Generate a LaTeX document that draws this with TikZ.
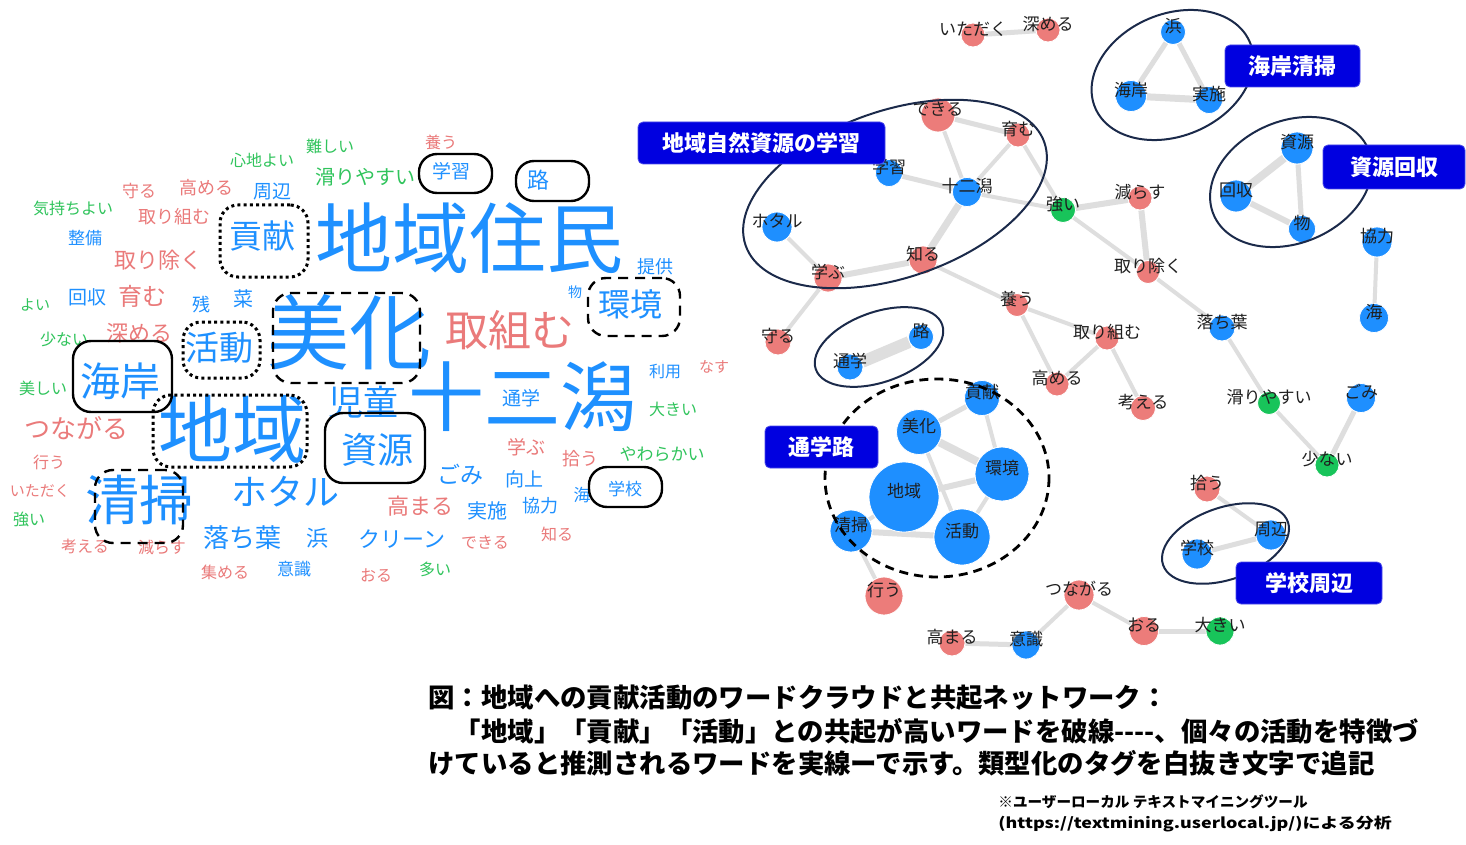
\documentclass[tikz,border=0pt]{standalone}
\usepackage{fontspec}
\setmainfont{Noto Sans CJK JP}
\usetikzlibrary{backgrounds}
\pgfdeclarelayer{foreground}
\pgfsetlayers{background,main,foreground}
\definecolor{wblue}{HTML}{1E90FF}
\definecolor{wred}{HTML}{EA7A7A}
\definecolor{wgreen}{HTML}{30C45C}
\definecolor{nblue}{HTML}{1E8FFF}
\definecolor{nred}{HTML}{EC7C7A}
\definecolor{ngreen}{HTML}{18C45A}
\definecolor{edgec}{HTML}{DEDEDE}
\definecolor{navy}{HTML}{1B2A4A}
\definecolor{tagblue}{HTML}{0000E0}
\newcommand\wcw[6]{\node[wc, text=#4, font=\fontsize{#5pt}{#5pt}\selectfont] (#1) at (#2,#3) {#6};}
\newcommand\nnode[6]{\node[nd, fill=#5, minimum size=#4pt] (#1) at (#2,#3) {};
  \begin{pgfonlayer}{foreground}\node[lbl] (#1t) at ([yshift=3pt]#1.center) {#6};\end{pgfonlayer}}
\begin{document}
\begin{tikzpicture}[x=0.5pt,y=-0.5pt,
  wc/.style={inner sep=0pt},
  rbox/.style={draw=black, rounded corners=9pt, line width=1.2pt, inner sep=0pt},
  dotbox/.style={rbox, line width=1.5pt, dash pattern=on 1.5pt off 1.6pt},
  dashbox/.style={rbox, dash pattern=on 5pt off 3.5pt},
  nd/.style={circle, draw=white, line width=0.4pt, inner sep=0pt},
  lbl/.style={inner sep=0pt, text=black!88, font=\fontsize{8.5pt}{8.5pt}\selectfont},
  lnk/.style={draw=edgec, line width=#1},
  ell/.style={draw=navy, line width=1pt},
  tag/.style={fill=tagblue, draw=tagblue!70!white, line width=0.4pt, rounded corners=2.5pt, text=white, inner sep=0pt, font=\fontsize{11pt}{11pt}\selectfont\bfseries},
  captxt/.style={inner sep=0pt, anchor=west, font=\fontsize{13.2pt}{14pt}\selectfont\bfseries},
  foottxt/.style={inner sep=0pt, anchor=west, font=\fontsize{7.3pt}{8pt}\selectfont\bfseries}]
\begin{pgfonlayer}{background}
\fill[white] (0,0) rectangle (1466,845);
\end{pgfonlayer}
\useasboundingbox (0,0) rectangle (1466,845);
% ---------------- word cloud ----------------
\wcw{w1}{469}{238}{wblue}{38.5}{地域住民}
\wcw{w2}{349}{332}{wblue}{41}{美化}
\wcw{w3}{522}{397}{wblue}{38}{十二潟}
\wcw{w4}{232}{429}{wblue}{37}{地域}
\wcw{w5}{510}{330}{wred}{21.5}{取組む}
\wcw{w6}{139}{500}{wblue}{27}{清掃}
\wcw{w7}{285}{492}{wblue}{18}{ホタル}
\wcw{w8}{120}{381}{wblue}{20}{海岸}
\wcw{w9}{363}{402}{wblue}{17.5}{児童}
\wcw{w10}{377}{450}{wblue}{18}{資源}
\wcw{w11}{262}{236}{wblue}{16.5}{貢献}
\wcw{w12}{219}{348}{wblue}{17}{活動}
\wcw{w13}{630}{304}{wblue}{16}{環境}
\wcw{w14}{77}{428}{wred}{13}{つながる}
\wcw{w15}{242}{538}{wblue}{13}{落ち葉}
\wcw{w16}{402}{539}{wblue}{11}{クリーン}
\wcw{w17}{460}{474}{wblue}{11.5}{ごみ}
\wcw{w18}{420}{506}{wred}{11}{高まる}
\wcw{w19}{158}{260}{wred}{11}{取り除く}
\wcw{w20}{142}{296}{wred}{12}{育む}
\wcw{w21}{139}{333}{wred}{11}{深める}
\wcw{w22}{365}{177}{wgreen}{10}{滑りやすい}
\wcw{w23}{521}{398}{wblue}{9.5}{通学}
\wcw{w24}{526}{447}{wred}{9.5}{学ぶ}
\wcw{w25}{524}{479}{wblue}{9.5}{向上}
\wcw{w26}{487}{511}{wblue}{10}{実施}
\wcw{w27}{540}{506}{wblue}{9}{協力}
\wcw{w28}{317}{538}{wblue}{11}{浜}
\wcw{w29}{538}{180}{wblue}{11}{路}
\wcw{w30}{451}{171}{wblue}{9.5}{学習}
\wcw{w31}{272}{192}{wblue}{9.5}{周辺}
\wcw{w32}{85}{238}{wblue}{8.5}{整備}
\wcw{w33}{87}{297}{wblue}{9.5}{回収}
\wcw{w34}{243}{299}{wblue}{10}{菜}
\wcw{w35}{201}{305}{wblue}{9}{残}
\wcw{w36}{174}{217}{wred}{9}{取り組む}
\wcw{w37}{206}{188}{wred}{9}{高める}
\wcw{w38}{139}{191}{wred}{8.5}{守る}
\wcw{w39}{73}{208}{wgreen}{8}{気持ちよい}
\wcw{w40}{262}{160}{wgreen}{8}{心地よい}
\wcw{w41}{330}{146}{wgreen}{8}{難しい}
\wcw{w42}{35}{305}{wgreen}{7.5}{よい}
\wcw{w43}{64}{339}{wgreen}{8}{少ない}
\wcw{w44}{43}{388}{wgreen}{8}{美しい}
\wcw{w45}{49}{462}{wred}{8}{行う}
\wcw{w46}{40}{491}{wred}{7.5}{いただく}
\wcw{w47}{29}{519}{wgreen}{8}{強い}
\wcw{w48}{85}{546}{wred}{8}{考える}
\wcw{w49}{162}{547}{wred}{8}{減らす}
\wcw{w50}{225}{572}{wred}{8}{集める}
\wcw{w51}{294}{569}{wblue}{8.5}{意識}
\wcw{w52}{376}{575}{wred}{8}{おる}
\wcw{w53}{435}{569}{wgreen}{8}{多い}
\wcw{w54}{485}{542}{wred}{8}{できる}
\wcw{w55}{557}{534}{wred}{8}{知る}
\wcw{w56}{580}{459}{wred}{9}{拾う}
\wcw{w57}{662}{454}{wgreen}{8.5}{やわらかい}
\wcw{w58}{582}{495}{wblue}{8.5}{海}
\wcw{w59}{625}{489}{wblue}{8.5}{学校}
\wcw{w60}{665}{372}{wblue}{8}{利用}
\wcw{w61}{714}{367}{wred}{7.5}{なす}
\wcw{w62}{673}{409}{wgreen}{8}{大きい}
\wcw{w63}{655}{267}{wblue}{9}{提供}
\wcw{w64}{575}{292}{wblue}{7}{物}
\wcw{w65}{441}{142}{wred}{8}{養う}
% boxes in the word cloud
\node[rbox, minimum width=36.5pt, minimum height=19.5pt] (b1) at (455.5,173.5) {};
\node[rbox, minimum width=36.5pt, minimum height=20pt] (b2) at (552.5,181) {};
\node[dotbox, minimum width=44pt, minimum height=36pt] (b3) at (264,241) {};
\node[dashbox, minimum width=73.5pt, minimum height=45pt] (b4) at (346.5,338) {};
\node[dashbox, minimum width=46pt, minimum height=29pt] (b5) at (634,307) {};
\node[dotbox, minimum width=38.5pt, minimum height=28pt] (b6) at (221.5,350) {};
\node[rbox, minimum width=49.5pt, minimum height=35.5pt] (b7) at (122.5,376.5) {};
\node[dotbox, minimum width=77pt, minimum height=36pt] (b8) at (230,431) {};
\node[rbox, minimum width=50pt, minimum height=35pt] (b9) at (375,448) {};
\node[dashbox, minimum width=44pt, minimum height=36.5pt] (b10) at (139,506.5) {};
\node[rbox, minimum width=36.5pt, minimum height=20pt] (b11) at (625.5,487) {};
% ---------------- network ----------------
\nnode{itadaku}{973}{35}{12}{nred}{いただく}
\nnode{fukameru}{1048}{30}{12}{nred}{深める}
\nnode{hama}{1173}{32}{12.5}{nblue}{浜}
\nnode{kaigan}{1131}{96}{15.5}{nblue}{海岸}
\nnode{jisshi}{1209}{100}{13.5}{nblue}{実施}
\nnode{dekiru}{938}{115}{17}{nred}{できる}
\nnode{hagukumu}{1018}{135}{12}{nred}{育む}
\nnode{gakushu}{889}{173}{13.5}{nblue}{学習}
\nnode{juni}{967}{192}{14.5}{nblue}{十二潟}
\nnode{hotaru}{777}{227}{15}{nblue}{ホタル}
\nnode{shiru}{923}{260}{14}{nred}{知る}
\nnode{manabu}{828}{278}{14}{nred}{学ぶ}
\nnode{mamoru}{778}{342}{13}{nred}{守る}
\nnode{tsuyoi}{1063}{210}{12.5}{ngreen}{強い}
\nnode{herasu}{1140}{198}{12}{nred}{減らす}
\nnode{torinozoku}{1148}{272}{11.5}{nred}{取り除く}
\nnode{shigen}{1297}{148}{16}{nblue}{資源}
\nnode{kaishu}{1236}{196}{16}{nblue}{回収}
\nnode{mono}{1302}{229}{13.5}{nblue}{物}
\nnode{kyoryoku}{1377}{242}{15}{nblue}{協力}
\nnode{umi}{1374}{318}{14.5}{nblue}{海}
\nnode{yashinau}{1017}{305}{11.5}{nred}{養う}
\nnode{torikumu}{1107}{338}{12}{nred}{取り組む}
\nnode{takameru}{1057}{384}{12}{nred}{高める}
\nnode{kangaeru}{1143}{408}{12.5}{nred}{考える}
\nnode{ochiba}{1222}{328}{13}{nblue}{落ち葉}
\nnode{suberi}{1269}{403}{11.5}{ngreen}{滑りやすい}
\nnode{gomi}{1361}{398}{14.5}{nblue}{ごみ}
\nnode{sukunai}{1327}{465}{12}{ngreen}{少ない}
\nnode{ro}{921}{337}{12.5}{nblue}{路}
\nnode{tsugaku}{850}{367}{13}{nblue}{通学}
\nnode{kouken}{982}{398}{17.5}{nblue}{貢献}
\nnode{bika}{919}{432}{22.5}{nblue}{美化}
\nnode{kankyo}{1002}{474}{27}{nblue}{環境}
\nnode{seisou}{851}{531}{21}{nblue}{清掃}
\nnode{katsudo}{962}{537}{28}{nblue}{活動}
\nnode{chiiki}{904}{497}{35}{nblue}{地域}
\nnode{okonau}{884}{596}{19}{nred}{行う}
\nnode{takamaru}{952}{643}{13}{nred}{高まる}
\nnode{ishiki}{1026}{645}{14}{nblue}{意識}
\nnode{tsunagaru}{1079}{595}{15}{nred}{つながる}
\nnode{hirou}{1207}{489}{13}{nred}{拾う}
\nnode{shuhen}{1271}{535}{15}{nblue}{周辺}
\nnode{gakko}{1197}{554}{15}{nblue}{学校}
\nnode{oru}{1144}{631}{14.5}{nred}{おる}
\nnode{ookii}{1220}{631}{14}{ngreen}{大きい}
\begin{pgfonlayer}{background}
\draw[lnk=2.5pt] (itadaku) -- (fukameru);
\draw[lnk=2.5pt] (hama) -- (kaigan);
\draw[lnk=2.5pt] (hama) -- (jisshi);
\draw[lnk=3.5pt] (kaigan) -- (jisshi);
\draw[lnk=2pt] (dekiru) -- (juni);
\draw[lnk=2.5pt] (dekiru) -- (hagukumu);
\draw[lnk=2pt] (hagukumu) -- (juni);
\draw[lnk=2.5pt] (gakushu) -- (juni);
\draw[lnk=3.5pt] (juni) -- (shiru);
\draw[lnk=3pt] (shiru) -- (manabu);
\draw[lnk=2pt] (manabu) -- (hotaru);
\draw[lnk=2pt] (manabu) -- (mamoru);
\draw[lnk=2pt] (hagukumu) -- (tsuyoi);
\draw[lnk=2pt] (juni) -- (tsuyoi);
\draw[lnk=3pt] (tsuyoi) -- (herasu);
\draw[lnk=2pt] (tsuyoi) -- (torinozoku);
\draw[lnk=3pt] (herasu) -- (torinozoku);
\draw[lnk=2pt] (torinozoku) -- (ochiba);
\draw[lnk=2pt] (shiru) -- (yashinau);
\draw[lnk=2pt] (yashinau) -- (torikumu);
\draw[lnk=2pt] (yashinau) -- (takameru);
\draw[lnk=2pt] (torikumu) -- (takameru);
\draw[lnk=2pt] (torikumu) -- (kangaeru);
\draw[lnk=4pt] (kaishu) -- (shigen);
\draw[lnk=2.5pt] (shigen) -- (mono);
\draw[lnk=3pt] (kaishu) -- (mono);
\draw[lnk=2pt] (kyoryoku) -- (umi);
\draw[lnk=2pt] (ochiba) -- (suberi);
\draw[lnk=2pt] (suberi) -- (sukunai);
\draw[lnk=2.5pt] (gomi) -- (sukunai);
\draw[lnk=6pt] (tsugaku) -- (ro);
\draw[lnk=2.5pt] (kouken) -- (bika);
\draw[lnk=2pt] (kouken) -- (kankyo);
\draw[lnk=4pt] (bika) -- (kankyo);
\draw[lnk=2pt] (bika) -- (katsudo);
\draw[lnk=3pt] (chiiki) -- (kankyo);
\draw[lnk=2pt] (kankyo) -- (katsudo);
\draw[lnk=3pt] (seisou) -- (katsudo);
\draw[lnk=2pt] (chiiki) -- (seisou);
\draw[lnk=2pt] (seisou) -- (okonau);
\draw[lnk=2.5pt] (takamaru) -- (ishiki);
\draw[lnk=2pt] (ishiki) -- (tsunagaru);
\draw[lnk=2pt] (tsunagaru) -- (oru);
\draw[lnk=2.5pt] (oru) -- (ookii);
\draw[lnk=2pt] (hirou) -- (shuhen);
\draw[lnk=2.5pt] (shuhen) -- (gakko);
\end{pgfonlayer}
\begin{pgfonlayer}{foreground}
\draw[ell, rotate around={19:(895,194)}] (895,194) ellipse [x radius=158, y radius=83.5];
\draw[ell, rotate around={23:(1172.5,75)}] (1172.5,75) ellipse [x radius=84, y radius=61];
\draw[ell, rotate around={23:(1291,182)}] (1291,182) ellipse [x radius=84, y radius=61];
\draw[ell, rotate around={19.5:(879,347)}] (879,347) ellipse [x radius=67, y radius=35];
\draw[ell, rotate around={19:(1225.5,543.5)}] (1225.5,543.5) ellipse [x radius=66, y radius=36];
\draw[line width=1.4pt, dash pattern=on 4.5pt off 3pt] (937,478) ellipse [x radius=112, y radius=99];
\node[tag, minimum width=123.5pt, minimum height=21pt] (t1) at (761.5,143) {地域自然資源の学習};
\node[tag, minimum width=67.5pt, minimum height=21pt] (t2) at (1292.5,66) {海岸清掃};
\node[tag, minimum width=71pt, minimum height=22pt] (t3) at (1394,167) {資源回収};
\node[tag, minimum width=56.5pt, minimum height=21pt] (t4) at (821.5,447) {通学路};
\node[tag, minimum width=73pt, minimum height=21pt] (t5) at (1309,583) {学校周辺};
\end{pgfonlayer}
% ---------------- caption ----------------
\node[captxt] (c1) at (428,698) {図：地域への貢献活動のワードクラウドと共起ネットワーク：};
\node[captxt] (c2) at (428,731) {　「地域」「貢献」「活動」との共起が高いワードを破線-{}-{}-{}-、個々の活動を特徴づ};
\node[captxt] (c3) at (428,763) {けていると推測されるワードを実線ーで示す。類型化のタグを白抜き文字で追記};
\node[foottxt] (f1) at (998,802) {※ユーザーローカル テキストマイニングツール};
\node[foottxt] (f2) at (998,824) {\scalebox{1.23}[1]{(https://textmining.userlocal.jp/)による分析}};
\end{tikzpicture}
\end{document}
